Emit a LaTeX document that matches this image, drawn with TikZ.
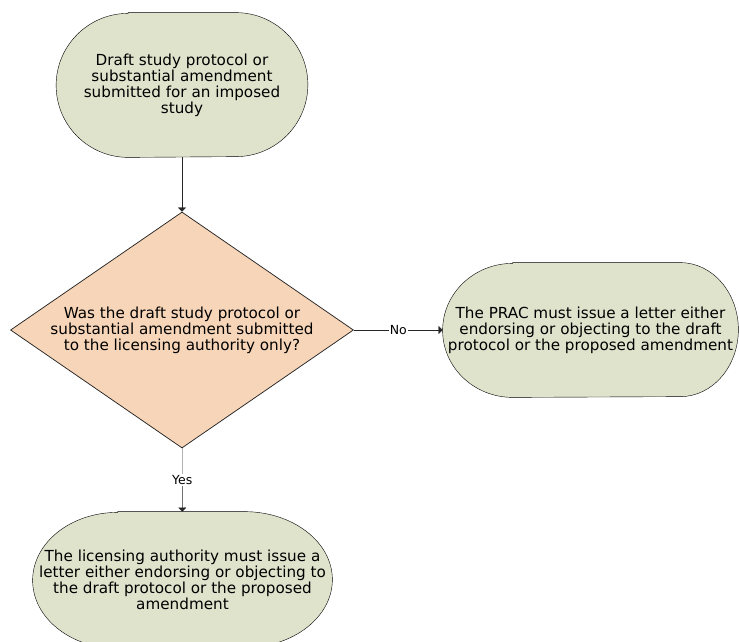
\documentclass[tikz,border=0pt]{standalone}
\usepackage{fontspec}
\setmainfont{DejaVu Sans}
\usetikzlibrary{arrows,shapes.geometric,backgrounds}
\definecolor{stepgreen}{HTML}{DFE3CC}
\definecolor{askpeach}{HTML}{F7D5B8}
\definecolor{edgegray}{HTML}{262626}

% pill outline behind a node: name, left x radius, right x radius, half height
\newcommand{\pillshape}[4]{%
	\draw[fill=stepgreen] ([xshift=#2]#1.north west) -- ([xshift=-#3]#1.north east)
		arc[start angle=90, end angle=-90, x radius=#3, y radius=#4]
		-- ([xshift=#2]#1.south west)
		arc[start angle=270, end angle=90, x radius=#2, y radius=#4] -- cycle;}

\begin{document}
\begin{tikzpicture}[x=1pt, y=1pt, font=\fontsize{15.2}{15.9}\selectfont, line width=0.75pt, draw=edgegray,
		endbox/.style={rectangle, align=center, inner sep=0pt},
		askbox/.style={diamond, draw, fill=askpeach, align=center, inner sep=0pt, aspect=1.45},
		yesno/.style={fill=white, inner sep=1pt, font=\fontsize{12.5}{14}\selectfont}]
		\useasboundingbox (0, 0) rectangle (739, -641);

		\node[endbox, minimum width=251, minimum height=144] (start) at (182, -85) {Draft study protocol or\\substantial amendment\\submitted for an imposed\\study};
		\node[askbox, minimum width=343, minimum height=236] (ask) at (182, -330) {Was the draft study protocol or\\substantial amendment submitted\\to the licensing authority only?};
		\node[endbox, minimum width=295, minimum height=134] (prac) at (590.5, -330) {The PRAC must issue a letter either\\endorsing or objecting to the draft\\protocol or the proposed amendment};
		\node[endbox, minimum width=299, minimum height=136] (lic) at (182.5, -580) {The licensing authority must issue a\\letter either endorsing or objecting to\\the draft protocol or the proposed\\amendment};

		\begin{pgfonlayer}{background}
			\pillshape{start}{72}{72}{72}
			\pillshape{prac}{70}{58}{67}
			\pillshape{lic}{85}{88}{68}
		\end{pgfonlayer}

		\draw [->,>=triangle 90] (start) -- (ask);
		\draw [->,>=triangle 90] (ask) -- node[yesno]{No} (prac);
		\draw [->,>=triangle 90] (ask) -- node[yesno]{Yes} (lic);
\end{tikzpicture}
\end{document}
